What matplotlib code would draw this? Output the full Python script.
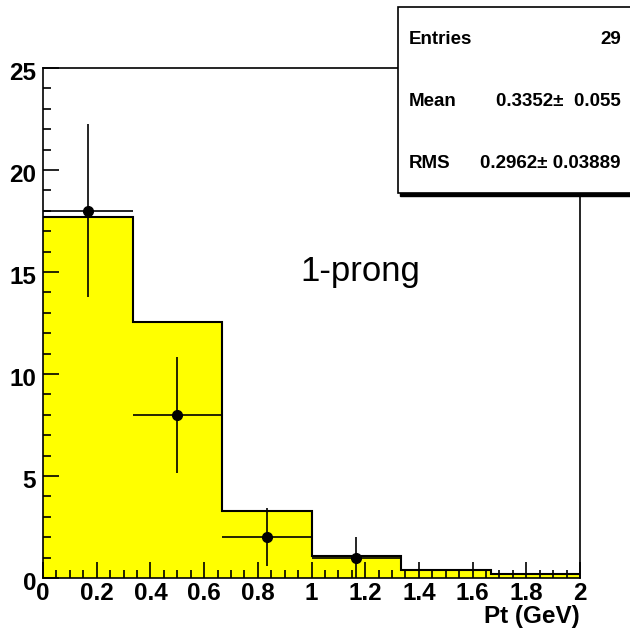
import matplotlib
matplotlib.use("Agg")
import matplotlib.pyplot as plt
from matplotlib.patches import Rectangle
from matplotlib.ticker import MultipleLocator
from matplotlib.transforms import ScaledTranslation
import numpy as np

# Data
bin_edges = [0.0, 1/3, 2/3, 1.0, 4/3, 5/3, 2.0]
mc_values = [17.7, 12.55, 3.3, 1.08, 0.4, 0.18]
data_x = [1/6, 0.5, 5/6, 7/6]
data_y = [18, 8, 2, 1]
data_yerr = [4.24, 2.83, 1.41, 1.0]
data_xerr = [1/6, 1/6, 1/6, 1/6]
xtick_labels = ["0", "0.2", "0.4", "0.6", "0.8", "1", "1.2", "1.4", "1.6", "1.8", "2"]
stats_labels = ["Entries", "Mean", "RMS"]
stats_values = ["29", "0.3352\u00b1  0.055", "0.2962\u00b1 0.03889"]
xlabel = "Pt (GeV)"
annotation = "1-prong"

plt.rcParams['font.family'] = ['Liberation Sans', 'DejaVu Sans']

W, H = 630, 633
fig = plt.figure(figsize=(W/100, H/100), dpi=100)
ax = fig.add_axes([43/W, (H-578)/H, (580-43)/W, (578-68)/H])

ax.stairs(mc_values, bin_edges, fill=True, facecolor='#ffff00', edgecolor='none', baseline=0)
ax.stairs(mc_values, bin_edges, fill=False, edgecolor='black', linewidth=1.5, baseline=None)
ax.errorbar(data_x, data_y, xerr=data_xerr, yerr=data_yerr, fmt='o', color='black',
            markersize=7, elinewidth=1.2, capsize=0, zorder=5)

ax.set_xlim(0, 2)
ax.set_ylim(0, 25)
ax.xaxis.set_minor_locator(MultipleLocator(0.05))
ax.yaxis.set_major_locator(MultipleLocator(5))
ax.yaxis.set_minor_locator(MultipleLocator(1))
ax.tick_params(which='both', direction='in', top=False, right=False, width=1.2)
ax.tick_params(which='major', length=11.5)
ax.tick_params(which='minor', length=5.5)
ax.tick_params(axis='x', which='major', pad=3)
ax.tick_params(axis='y', which='major', pad=5)
ax.set_xticks(np.arange(0, 2.01, 0.2))
ax.set_xticklabels(xtick_labels)
for lab in ax.get_xticklabels() + ax.get_yticklabels():
    lab.set_fontweight('bold')
    lab.set_fontsize(17.5)
shift = ScaledTranslation(0, -3.5/100, fig.dpi_scale_trans)
for lab in ax.get_yticklabels():
    lab.set_transform(lab.get_transform() + shift)
for sp in ax.spines.values():
    sp.set_linewidth(1.2)

fig.text(580/W, (H-617)/H, xlabel, ha='right', va='center', fontsize=17.5, fontweight='bold')
ax.text(0.957, 15.0, annotation, fontsize=25, ha='left', va='center')

# Stats box
shadow = Rectangle((400/W, (H-195.5)/H), 300/W, (195.5-9)/H, transform=fig.transFigure,
                   facecolor='black', edgecolor='black', linewidth=1, zorder=9)
box = Rectangle((398/W, (H-193)/H), 300/W, (193-7)/H, transform=fig.transFigure,
                facecolor='white', edgecolor='black', linewidth=1.2, zorder=10)
fig.patches.append(shadow)
fig.patches.append(box)
ys = [40, 102, 163]
for lab, val, y in zip(stats_labels, stats_values, ys):
    fig.text(409/W, (H-y)/H, lab, ha='left', va='center', fontsize=13.5, fontweight='bold', zorder=11)
    fig.text(621/W, (H-y)/H, val, ha='right', va='center', fontsize=13.5, fontweight='bold', zorder=11)

fig.savefig("out.png", dpi=100)
